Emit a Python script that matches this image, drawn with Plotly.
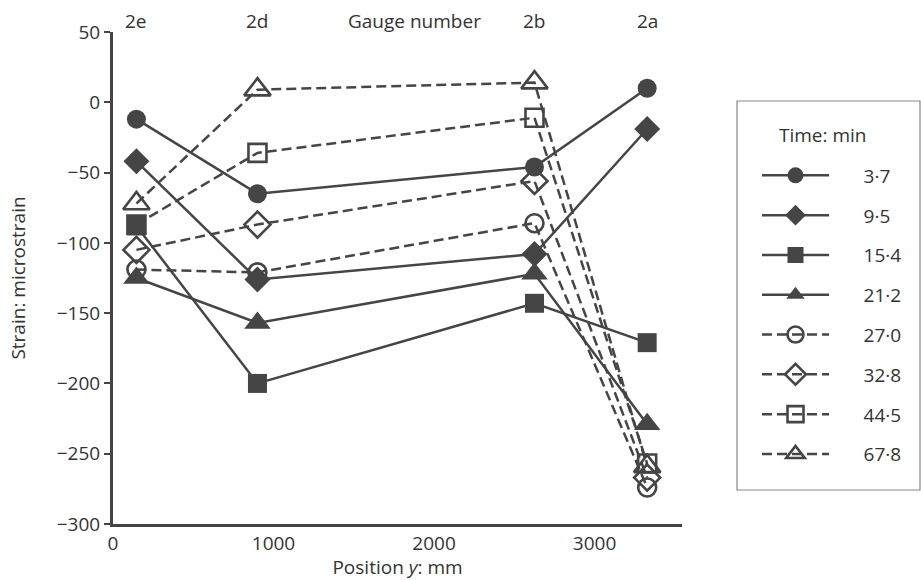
import plotly.graph_objects as go

# ---- data ----
positions = [146, 900, 2626, 3328]          # Position y (mm) of gauges
gauges = ["2e", "2d", "2b", "2a"]           # gauge numbers
times = ["3·7", "9·5", "15·4", "21·2", "27·0", "32·8", "44·5", "67·8"]  # time, min
strain_3_7 = [-12, -65, -46, 10]
strain_9_5 = [-42, -126, -108, -19]
strain_15_4 = [-88, -200, -143, -171]
strain_21_2 = [-125, -157, -122, -229]
strain_27_0 = [-119, -121, -86, -274]
strain_32_8 = [-105, -87, -56, -267]
strain_44_5 = [-87, -36, -11, -257]
strain_67_8 = [-72, 9, 14, -259]
y_ticks = [-300, -250, -200, -150, -100, -50, 0, 50]
x_ticks = [0, 1000, 2000, 3000]

series = [strain_3_7, strain_9_5, strain_15_4, strain_21_2,
          strain_27_0, strain_32_8, strain_44_5, strain_67_8]

# ---- styles ----
INK = "#454545"
TXT = "#333333"
FONT = "Open Sans"
FS = 19
symbols = ["circle", "diamond", "square", "triangle-up",
           "circle-open", "diamond-open", "square-open", "triangle-up-open"]
sizes = [19, 20, 19, 23, 18, 20, 18, 23]
dashes = ["solid"] * 4 + ["10px,5px"] * 4

fig = go.Figure()
for name, vals, sym, sz, dsh in zip(times, series, symbols, sizes, dashes):
    is_open = "open" in sym
    fig.add_trace(go.Scatter(
        x=positions, y=vals, name="      " + name, mode="lines+markers",
        line=dict(color=INK, width=2.5, dash=dsh),
        marker=dict(symbol=sym, size=sz, color=INK,
                    line=dict(color=INK, width=2.6 if is_open else 0)),
        legendgroup=name,
    ))

for pos, g in zip(positions, gauges):
    fig.add_annotation(x=pos, y=1, xref="x", yref="paper", yanchor="bottom",
                       text=g, showarrow=False, yshift=-4,
                       font=dict(family=FONT, size=FS, color=TXT))
fig.add_annotation(x=0.53, y=1, xref="paper", yref="paper", yanchor="bottom",
                   xanchor="center",
                   text="Gauge number", showarrow=False, yshift=-4,
                   font=dict(family=FONT, size=FS, color=TXT))

# legend frame and title
L, R, T, B = 113, 239, 32, 56
PW = 921 - L - R
PH = 580 - T - B
def px(x):
    return (x - L) / PW
def py(y):
    return (580 - B - y) / PH

fig.add_shape(type="rect", xref="paper", yref="paper",
              x0=px(737), x1=px(920), y0=py(490), y1=py(101),
              line=dict(color="#888888", width=1.2), fillcolor="rgba(0,0,0,0)")
fig.add_annotation(x=px(823), y=py(135), xref="paper", yref="paper",
                   xanchor="center", yanchor="middle",
                   text="Time: min", showarrow=False,
                   font=dict(family=FONT, size=FS, color=TXT))

fig.update_layout(
    width=921, height=580,
    margin=dict(l=L, r=R, t=T, b=B, autoexpand=False),
    paper_bgcolor="white", plot_bgcolor="white",
    font=dict(family=FONT, size=FS, color=TXT),
    showlegend=True,
    legend=dict(
        x=px(757), y=py(156.5), xanchor="left", yanchor="top",
        bgcolor="rgba(0,0,0,0)", borderwidth=0,
        font=dict(family=FONT, size=FS, color=TXT),
        itemwidth=67, tracegroupgap=12.1, itemsizing="trace",
    ),
    xaxis=dict(range=[0, 3545], tickvals=x_ticks, showgrid=False, zeroline=False,
               showline=True, linecolor=INK, linewidth=3, ticks="",
               automargin=False,
               title=dict(text="Position <i>y</i>: mm", standoff=6,
                          font=dict(family=FONT, size=FS, color=TXT)),
               tickfont=dict(family=FONT, size=FS, color=TXT)),
    yaxis=dict(range=[-300, 50], tickvals=y_ticks, showgrid=False, zeroline=False,
               showline=True, linecolor=INK, linewidth=3, ticks="outside",
               ticklen=6, tickwidth=2, tickcolor=INK, automargin=False,
               title=dict(text="Strain: microstrain", standoff=27,
                          font=dict(family=FONT, size=FS, color=TXT)),
               tickfont=dict(family=FONT, size=FS, color=TXT)),
)

fig.write_html("out.html")
